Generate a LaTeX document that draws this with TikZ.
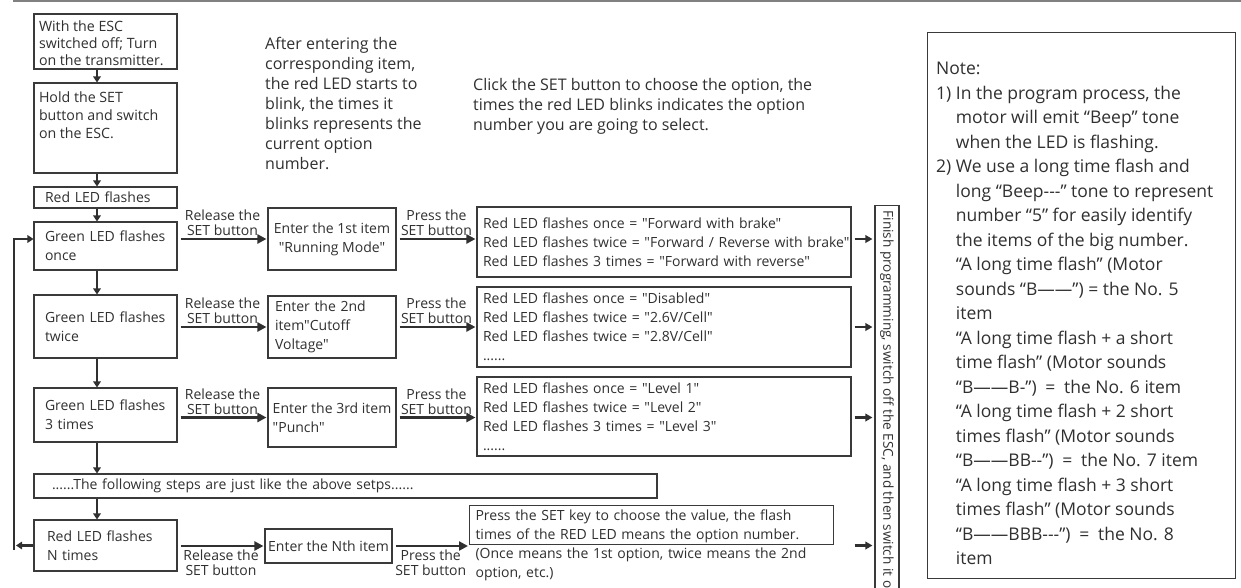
\documentclass[tikz,border=0pt]{standalone}
\usepackage{fontspec}
\setmainfont{Open Sans}[Ligatures=TeXOff]
\usetikzlibrary{arrows.meta}
\definecolor{ink}{HTML}{303030}
\definecolor{edge}{HTML}{3A3A3A}
\newcommand\flowfont{\fontsize{14}{19}\selectfont}
\newcommand\labfont{\fontsize{14}{15}\selectfont}
\newcommand\topfont{\fontsize{16}{20}\selectfont}
\newcommand\notefont{\fontsize{17.5}{24.5}\selectfont}
\newcommand\ind{\phantom{2)\ }}
\newcommand\oneln[1]{\mbox{#1}}
\begin{document}
\begin{tikzpicture}[x=1pt,y=-1pt,
  box/.style={draw=edge, line width=1.1pt, text=ink, font=\flowfont, inner sep=0pt},
  arrv/.style={draw=ink, line width=2.4pt, -{Triangle[length=6pt,width=7.5pt]}},
  arrh/.style={draw=ink, line width=2.8pt, -{Triangle[length=9pt,width=9pt]}, shorten <=3pt, shorten >=1pt},
  arrs/.style={draw=ink, line width=2.6pt, -{Triangle[length=7pt,width=7.5pt]}, shorten <=3pt, shorten >=2pt},
  lbl/.style={text=ink, font=\labfont, align=center, inner sep=0.5pt},
  txt/.style={text=ink, align=left, inner sep=0pt},
]
\useasboundingbox (0,0) rectangle (1241,587);
\fill[white] (0,0) rectangle (1241,587);
\draw[gray, line width=1.5pt] (13,1) -- (1241,1);

% left column
\node[box, minimum width=143pt, minimum height=55pt] (b1) at (105.5,41.5)
  {\parbox[c][55pt][t]{133pt}{\vspace*{6.5pt}\fontsize{14.2}{17}\selectfont\raggedright With the ESC\\switched off; Turn\\on the transmitter.}};
\node[box, minimum width=143pt, minimum height=90pt] (b2) at (105.5,128)
  {\parbox[c][80pt][t]{133pt}{\vspace*{4pt}\fontsize{14.2}{18}\selectfont\raggedright Hold the SET\\button and switch\\on the ESC.}};
\node[box, minimum width=143pt, minimum height=21pt, text width=121pt, align=left] (b3) at (105.5,197.5) {Red LED flashes};
\node[box, minimum width=143pt, minimum height=48pt, text width=121pt, align=left] (b4) at (105.5,246) {\oneln{Green LED flashes}\\once};
\node[box, minimum width=143pt, minimum height=63pt, text width=121pt, align=left] (b5) at (105.5,326.5) {\oneln{Green LED flashes}\\twice};
\node[box, minimum width=143pt, minimum height=54pt, text width=121pt, align=left] (b6) at (105.5,415) {\oneln{Green LED flashes}\\3 times};
\node[box, minimum width=623pt, minimum height=24pt, text width=587pt, align=left] (b7) at (345.5,486)
  {......The following steps are just like the above setps......};
\node[box, minimum width=143pt, minimum height=51pt, text width=117pt, align=left] (b8) at (105.5,545.5) {Red LED flashes\\N times};

% item boxes
\node[box, minimum width=128pt, minimum height=62pt, align=center] (e1) at (332,239) {Enter the 1st item\\"Running Mode"};
\node[box, minimum width=128pt, minimum height=62pt, text width=114pt, align=left] (e2) at (332,327) {Enter the 2nd\\item"Cutoff\\Voltage"};
\node[box, minimum width=128pt, minimum height=59pt, align=left] (e3) at (332,417.5) {Enter the 3rd item\\"Punch"};
\node[box, minimum width=127pt, minimum height=34pt] (eN) at (328.5,546) {Enter the Nth item};

% option boxes
\node[box, minimum width=374pt, minimum height=70pt, text width=362pt, align=left] (o1) at (664,242)
  {\oneln{Red LED flashes once = "Forward with brake"}\\\oneln{Red LED flashes twice = "Forward / Reverse with brake"}\\\oneln{Red LED flashes 3 times = "Forward with reverse"}};
\node[box, minimum width=374pt, minimum height=80pt, text width=362pt, align=left] (o2) at (664,327)
  {\oneln{Red LED flashes once = "Disabled"}\\\oneln{Red LED flashes twice = "2.6V/Cell"}\\\oneln{Red LED flashes twice = "2.8V/Cell"}\\......};
\node[box, minimum width=374pt, minimum height=79pt, text width=362pt, align=left] (o3) at (664,416.5)
  {\oneln{Red LED flashes once = "Level 1"}\\\oneln{Red LED flashes twice = "Level 2"}\\\oneln{Red LED flashes 3 times = "Level 3"}\\......};
\node[box, anchor=north west, minimum width=364pt, text width=352pt, align=left, inner ysep=4pt, text depth=20pt] (oN) at (469,505)
  {\oneln{Press the SET key to choose the value, the flash}\\\oneln{times of the RED LED means the option number.}\\\oneln{(Once means the 1st option, twice means the 2nd}\\\oneln{option, etc.)}};

% finish box
\node[box, rotate=-90, anchor=west, minimum height=24pt, inner xsep=5pt, font=\fontsize{13.6}{16}\selectfont] (F) at (887,205)
  {Finish programming, switch off the ESC, and then switch it on};

% top texts
\node[txt, anchor=north west, font=\topfont] (t1) at (265,37)
  {After entering the\\corresponding item,\\the red LED starts to\\blink, the times it\\blinks represents the\\current option\\number.};
\node[txt, anchor=north west, font=\topfont] (t2) at (473,78)
  {Click the SET button to choose the option, the\\times the red LED blinks indicates the option\\number you are going to select.};

% note
\node[draw=edge, line width=1.1pt, anchor=north west, minimum width=308pt, minimum height=546pt, inner sep=0pt] (note) at (927,32) {};
\node[txt, anchor=north west, font=\notefont] (nt) at (936,62)
  {Note:\\
   1) In the program process, the\\
   \ind motor will emit “Beep” tone\\
   \ind when the LED is flashing.\\
   2) We use a long time flash and\\
   \ind long “Beep---” tone to represent\\
   \ind number “5” for easily identify\\
   \ind the items of the big number.\\
   \ind “A long time flash” (Motor\\
   \ind sounds “B——”) = the No. 5\\
   \ind item\\
   \ind “A long time flash + a short\\
   \ind time flash” (Motor sounds\\
   \ind “B——B-”)\enspace=\enspace the No. 6 item\\
   \ind “A long time flash + 2 short\\
   \ind times flash” (Motor sounds\\
   \ind “B——BB--”)\enspace=\enspace the No. 7 item\\
   \ind “A long time flash + 3 short\\
   \ind times flash” (Motor sounds\\
   \ind “B——BBB---”)\enspace=\enspace the No. 8\\
   \ind item};

% vertical arrows
\coordinate (vx) at (97,0);
\draw[arrv] (b1.south -| vx) -- (b2.north -| vx);
\draw[arrv] (b2.south -| vx) -- (b3.north -| vx);
\draw[arrv] (b3.south -| vx) -- (b4.north -| vx);
\draw[arrv] (b4.south -| vx) -- (b5.north -| vx);
\draw[arrv] (b5.south -| vx) -- (b6.north -| vx);
\draw[arrv] (b6.south -| vx) -- (b7.north -| vx);
\draw[arrv] (b7.south -| vx) -- (b8.north -| vx);

% loop back
\coordinate (lp1) at (14,550);
\coordinate (lp2) at (14,239);
\draw[arrv, line width=2.8pt] (lp1) -- (lp2) -- (lp2 -| b4.west);
\draw[arrv, line width=2.6pt] (b8.west) -- ([xshift=2pt]b8.west -| lp1);

% release arrows
\draw[arrh] (b4.east |- e1.west) -- node[lbl, above=1pt] {Release the\\SET button} (e1.west);
\draw[arrh] (b5.east |- e2.west) -- node[lbl, above=1pt] {Release the\\SET button} (e2.west);
\draw[arrh] (b6.east |- e3.west) -- node[lbl, above=1pt] {Release the\\SET button} (e3.west);
\draw[arrh] (b8.east |- eN.west) -- node[lbl, below=2pt] {Release the\\SET button} (eN.west);

% press arrows
\draw[arrh] (e1.east) -- node[lbl, above=1pt] {Press the\\SET button} (e1.east -| o1.west);
\draw[arrh] (e2.east) -- node[lbl, above=1pt] {Press the\\SET button} (e2.east -| o2.west);
\draw[arrh] (e3.east) -- node[lbl, above=1pt] {Press the\\SET button} (e3.east -| o3.west);
\draw[arrh] (eN.east) -- node[lbl, below=2pt] {Press the\\SET button} (eN.east -| oN.west);

% to finish
\draw[arrs] (o1.east |- e1.east) -- (e1.east -| F.south);
\draw[arrs] (o2.east |- e2.east) -- (e2.east -| F.south);
\draw[arrs] (o3.east |- e3.east) -- (e3.east -| F.south);
\draw[arrs] (o1.east |- b8.east) -- (b8.east -| F.south);
\end{tikzpicture}
\end{document}
